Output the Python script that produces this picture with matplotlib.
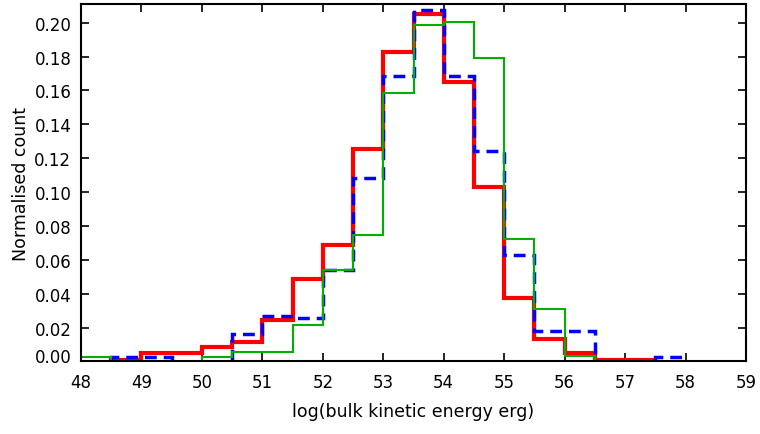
import numpy as np
import matplotlib
matplotlib.use("Agg")
import matplotlib.pyplot as plt
import matplotlib.transforms as mtransforms

# Histogram bin edges (log10 of bulk kinetic energy, erg), 0.5 dex bins
bin_edges = np.arange(48.0, 58.01, 0.5)

# Normalised counts per bin
red_counts = [0.0, 0.0009, 0.0048, 0.0048, 0.0084, 0.0117, 0.0245, 0.0487,
              0.0690, 0.1254, 0.1824, 0.2050, 0.1650, 0.1028, 0.0373, 0.0133,
              0.0048, 0.0009, 0.0009, 0.0]
blue_counts = [0.0, 0.0028, 0.0028, 0.0, 0.0, 0.0162, 0.0270, 0.0257,
               0.0542, 0.1083, 0.1686, 0.2074, 0.1686, 0.1244, 0.0630, 0.0182,
               0.0182, 0.0, 0.0, 0.0028]
green_counts = [0.0028, 0.0, 0.0, 0.0, 0.0028, 0.0054, 0.0054, 0.0217,
                0.0542, 0.0746, 0.1584, 0.1985, 0.2001, 0.1790, 0.0721, 0.0308,
                0.0034, 0.0, 0.0, 0.0]

x_ticks = list(range(48, 60))
y_ticks = [0.00, 0.02, 0.04, 0.06, 0.08, 0.10, 0.12, 0.14, 0.16, 0.18, 0.20]

plt.rcParams['font.family'] = ['DejaVu Sans']

fig = plt.figure(figsize=(7.6, 4.35), dpi=100)
ax = fig.add_axes([0.1066, 0.1667, 0.8750, 0.8218])


def outline(values):
    # empty bins are left undrawn so the outline only drops to zero at the gaps
    v = np.asarray(values, dtype=float)
    return np.where(v > 0, v, np.nan)


ax.stairs(outline(red_counts), bin_edges, baseline=0, color='#ff0000',
          linewidth=3.0, zorder=2)
ax.stairs(outline(blue_counts), bin_edges, baseline=0, color='#0000ff',
          linewidth=2.5, linestyle=(0, (3.4, 2.0)), zorder=3)
ax.stairs(outline(green_counts), bin_edges, baseline=0, color='#00b000',
          linewidth=1.5, zorder=4)

ax.set_xlim(48, 59)
ax.set_ylim(0, 0.211)
ax.set_xticks(x_ticks)
ax.set_yticks(y_ticks)
ax.set_yticklabels([f"{t:.2f}" for t in y_ticks])

ax.tick_params(axis='both', direction='in', length=6, width=1.2,
               top=True, right=True, labelsize=12, colors='black')
ax.tick_params(axis='x', pad=8)
ax.tick_params(axis='y', pad=7)

for sp in ax.spines.values():
    sp.set_linewidth(1.5)
    sp.set_zorder(5)

# lift the bottom y label clear of the x axis
lbl0 = ax.get_yticklabels()[0]
lbl0.set_transform(lbl0.get_transform() +
                   mtransforms.ScaledTranslation(0, 5 / 72, fig.dpi_scale_trans))

ax.set_xlabel("log(bulk kinetic energy erg)", fontsize=12.5, labelpad=8)
ax.set_ylabel("Normalised count", fontsize=12.5, labelpad=3)

fig.savefig("out.png", dpi=100)
